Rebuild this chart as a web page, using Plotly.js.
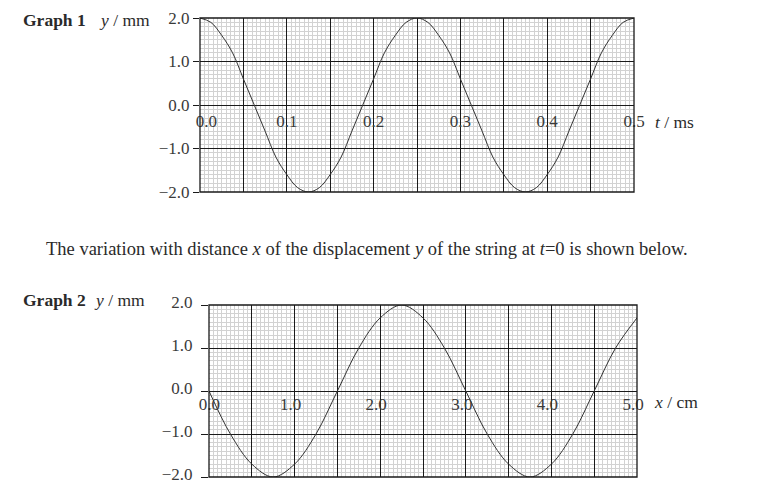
<!DOCTYPE html>
<html>
<head>
<meta charset="utf-8">
<script src="https://cdn.plot.ly/plotly-3.0.1.min.js"></script>
<style>body{margin:0;background:#fff}</style>
</head>
<body>
<div id="chart" style="width:771px;height:504px"></div>
<script>
// graph 1: displacement y / mm against time t / ms (read every 0.0125 ms)
var tValues = [0, 0.0125, 0.025, 0.0375, 0.05, 0.0625, 0.075, 0.0875, 0.1, 0.1125,
  0.125, 0.1375, 0.15, 0.1625, 0.175, 0.1875, 0.2, 0.2125, 0.225, 0.2375,
  0.25, 0.2625, 0.275, 0.2875, 0.3, 0.3125, 0.325, 0.3375, 0.35, 0.3625,
  0.375, 0.3875, 0.4, 0.4125, 0.425, 0.4375, 0.45, 0.4625, 0.475, 0.4875, 0.5];
var yTime = [2.0, 1.9, 1.6, 1.2, 0.6, 0.0, -0.6, -1.2, -1.6, -1.9,
  -2.0, -1.9, -1.6, -1.2, -0.6, 0.0, 0.6, 1.2, 1.6, 1.9,
  2.0, 1.9, 1.6, 1.2, 0.6, 0.0, -0.6, -1.2, -1.6, -1.9,
  -2.0, -1.9, -1.6, -1.2, -0.6, 0.0, 0.6, 1.2, 1.6, 1.9, 2.0];

// graph 2: displacement y / mm against distance x / cm at t=0 (read every 0.25 cm)
var xValues = [0, 0.25, 0.5, 0.75, 1.0, 1.25, 1.5, 1.75, 2.0, 2.25,
  2.5, 2.75, 3.0, 3.25, 3.5, 3.75, 4.0, 4.25, 4.5, 4.75, 5.0];
var yDist = [0.0, -1.0, -1.7, -2.0, -1.7, -1.0, 0.0, 1.0, 1.7, 2.0,
  1.7, 1.0, 0.0, -1.0, -1.7, -2.0, -1.7, -1.0, 0.0, 1.0, 1.7];

// tick labels
var yTickVals = [-2, -1, 0, 1, 2];
var yTickText = ['\u22122.0', '\u22121.0', '0.0', '1.0', '2.0'];
var tTickVals = [0, 0.05, 0.1, 0.15, 0.2, 0.25, 0.3, 0.35, 0.4, 0.45, 0.5];
var tTickText = ['\u00a0\u00a0\u00a00.0', '', '0.1', '', '0.2', '', '0.3', '', '0.4', '', '0.5'];
var xTickVals = [0, 0.5, 1, 1.5, 2, 2.5, 3, 3.5, 4, 4.5, 5];
var xTickText = ['\u00a0\u00a00.0', '', '1.0', '', '2.0', '', '3.0', '', '4.0', '', '5.0'];

var serif = 'Liberation Serif, Times New Roman, serif';
var ink = '#2a2a2a';
var majorGrid = '#1a1a1a';
var minorGrid = '#d2d2d2';

var lineStyle = {color: '#333', width: 1, shape: 'spline', smoothing: 1};

var data = [
  {x: tValues, y: yTime, xaxis: 'x', yaxis: 'y', mode: 'lines', line: lineStyle, hoverinfo: 'skip'},
  {x: xValues, y: yDist, xaxis: 'x2', yaxis: 'y2', mode: 'lines', line: lineStyle, hoverinfo: 'skip'}
];

// plot areas, paper coords
var d1x = [200 / 771, 634 / 771], d1y = [1 - 192 / 504, 1 - 18 / 504];
var d2x = [209 / 771, 637 / 771], d2y = [1 - 477 / 504, 1 - 305 / 504];

function xAxis(dom, ydom, range, vals, text, minorStep, shift, standoff) {
  return {
    domain: dom, range: range, anchor: 'free', position: (ydom[0] + ydom[1]) / 2,
    tickmode: 'array', tickvals: vals, ticktext: text, ticks: '',
    showgrid: true, gridcolor: majorGrid, gridwidth: 1,
    zeroline: false, showline: false, ticklabelshift: shift, ticklabelstandoff: standoff,
    minor: {tickmode: 'linear', tick0: 0, dtick: minorStep, showgrid: true, gridcolor: minorGrid, gridwidth: 1, ticks: ''},
    tickfont: {family: serif, size: 17, color: '#3a3a3a'}, fixedrange: true
  };
}
function yAxis(dom, anchor, ticklen, shift, standoff) {
  return {
    domain: dom, range: [-2, 2], anchor: anchor,
    tickmode: 'array', tickvals: yTickVals, ticktext: yTickText,
    ticks: 'outside', ticklen: ticklen, tickcolor: majorGrid, tickwidth: 1,
    showgrid: true, gridcolor: majorGrid, gridwidth: 1,
    zeroline: true, zerolinecolor: majorGrid, zerolinewidth: 1, showline: false,
    ticklabelshift: shift, ticklabelstandoff: standoff,
    minor: {tickmode: 'linear', tick0: 0, dtick: 0.1, showgrid: true, gridcolor: minorGrid, gridwidth: 1, ticks: ''},
    tickfont: {family: serif, size: 17, color: '#3a3a3a'}, fixedrange: true
  };
}

function frame(xr, yr) {
  return {type: 'rect', xref: xr + ' domain', yref: yr + ' domain', x0: 0, x1: 1, y0: 0, y1: 1,
    line: {color: majorGrid, width: 1.3}, layer: 'above'};
}

function label(x, y, text, size, bold) {
  return {xref: 'paper', yref: 'paper', x: x / 771, y: 1 - y / 504, xanchor: 'left', yanchor: 'middle',
    text: bold ? '<b>' + text + '</b>' : text, showarrow: false,
    font: {family: serif, size: size, color: ink}};
}

var layout = {
  width: 771, height: 504,
  margin: {l: 0, r: 0, t: 0, b: 0},
  paper_bgcolor: '#fff', plot_bgcolor: '#fff',
  showlegend: false,
  xaxis: xAxis(d1x, d1y, [0, 0.5], tTickVals, tTickText, 0.005, 0, 4),
  yaxis: yAxis(d1y, 'x', 6, 0, 0),
  xaxis2: xAxis(d2x, d2y, [0, 5], xTickVals, xTickText, 0.05, -4, 1),
  yaxis2: yAxis(d2y, 'x2', 7, -3, 5),
  shapes: [frame('x', 'y'), frame('x2', 'y2')],
  annotations: [
    label(21, 20, 'Graph 1', 17.5, true),
    label(97, 20, '<i>y</i> / mm', 17.5, false),
    label(653, 122, '<i>t</i> / ms', 17.5, false),
    label(44, 249, 'The variation with distance <i>x</i> of the displacement <i>y</i> of the string at <i>t</i>=0 is shown below.', 18.5, false),
    label(21, 300, 'Graph 2', 17.5, true),
    label(92, 300, '<i>y</i> / mm', 17.5, false),
    label(652, 402, '<i>x</i> / cm', 17.5, false)
  ]
};

Plotly.newPlot('chart', data, layout, {staticPlot: true, displayModeBar: false});
</script>
</body>
</html>
